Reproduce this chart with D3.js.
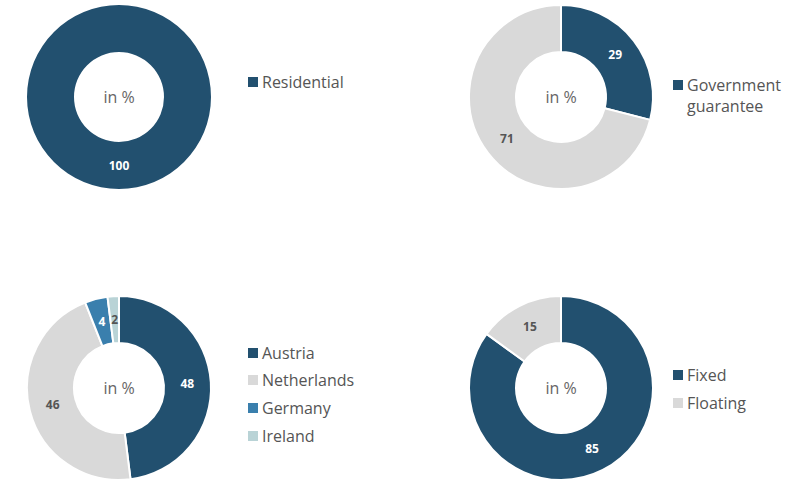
<!DOCTYPE html><html><head><meta charset="utf-8">
<script src="https://cdn.jsdelivr.net/npm/d3@7"></script>
<style>body{margin:0;background:#fff}text{font-family:"Open Sans",sans-serif}</style></head><body>
<svg id="c" width="795" height="484"></svg>
<script>
const usageLabels=["Residential"], usageValues=[100];
const guarLabels=["Government guarantee","Other"], guarValues=[29,71];
const countryLabels=["Austria","Netherlands","Germany","Ireland"], countryValues=[48,46,4,2];
const rateLabels=["Fixed","Floating"], rateValues=[85,15];
const colors={Residential:"#22506f",Austria:"#22506f",Netherlands:"#d9d9d9",Germany:"#3a7fad",Ireland:"#b9d3d6","Government guarantee":"#22506f",Other:"#d9d9d9",Fixed:"#22506f",Floating:"#d9d9d9"};
const light=new Set(["Netherlands","Ireland","Other","Floating"]);
const svg=d3.select("#c");
const charts=[
 {cx:119,cy:97,labels:usageLabels,values:usageValues,lx:248,ly:[82],legend:[["Residential"]]},
 {cx:561,cy:97,labels:guarLabels,values:guarValues,lx:673,ly:[85],legend:[["Government","guarantee"]]},
 {cx:119,cy:388,labels:countryLabels,values:countryValues,lx:248,ly:[353,380,408,436],legend:countryLabels.map(d=>[d])},
 {cx:561,cy:388,labels:rateLabels,values:rateValues,lx:673,ly:[375,403],legend:rateLabels.map(d=>[d])}
];
const arc=d3.arc().innerRadius(45).outerRadius(92);
charts.forEach(c=>{
 const data=c.labels.map((l,i)=>({l,v:c.values[i]}));
 const pie=d3.pie().sort(null).value(d=>d.v)(data);
 const g=svg.append("g").attr("transform",`translate(${c.cx},${c.cy})`);
 g.selectAll("path").data(pie).join("path").attr("d",arc).attr("fill",d=>colors[d.data.l])
  .attr("stroke","#fff").attr("stroke-width",data.length>1?2:0);
 g.selectAll("text.v").data(pie).join("text").attr("class","v")
  .attr("transform",d=>`translate(${arc.centroid(d)})`).attr("text-anchor","middle").attr("dy","0.35em")
  .attr("font-size",12).attr("font-weight","bold").attr("fill",d=>light.has(d.data.l)?"#555":"#fff").text(d=>d.data.v);
 g.append("text").attr("text-anchor","middle").attr("dy","0.35em").attr("font-size",16).attr("fill","#666").text("in %");
 c.legend.forEach((lines,i)=>{
  const y=c.ly[i];
  svg.append("rect").attr("x",c.lx).attr("y",y-5).attr("width",10).attr("height",10).attr("fill",colors[c.labels[i]]);
  lines.forEach((t,j)=>svg.append("text").attr("x",c.lx+14).attr("y",y+j*21).attr("dy","0.35em").attr("font-size",16).attr("fill","#555").text(t));
 });
});
</script></body></html>
